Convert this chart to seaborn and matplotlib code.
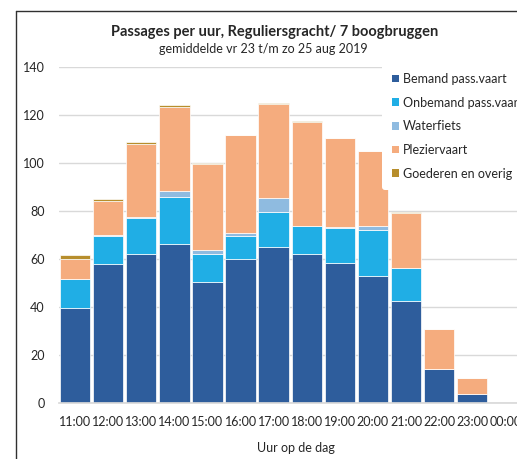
import matplotlib
matplotlib.use("Agg")
import matplotlib.pyplot as plt
from matplotlib.lines import Line2D
from matplotlib.patches import Patch
import numpy as np
import pandas as pd
import seaborn as sns

# Passages per hour, Reguliersgracht / 7 boogbruggen (average Fri 23 - Sun 25 Aug 2019)
hours = ["11:00", "12:00", "13:00", "14:00", "15:00", "16:00", "17:00",
         "18:00", "19:00", "20:00", "21:00", "22:00", "23:00", "00:00"]
bemand = [39.5, 58.0, 62.0, 66.4, 50.5, 60.0, 65.0, 62.0, 58.5, 53.0, 42.5, 14.0, 3.8, 0.0]
onbemand = [12.0, 11.5, 15.0, 19.6, 11.7, 9.4, 14.5, 11.7, 14.5, 19.0, 13.6, 0.0, 0.0, 0.0]
waterfiets = [0.0, 0.5, 0.5, 2.5, 1.4, 1.4, 6.0, 0.0, 0.4, 1.6, 0.0, 0.0, 0.0, 0.0]
plezier = [8.5, 14.0, 30.5, 34.8, 35.8, 40.7, 39.0, 43.3, 37.0, 31.4, 22.9, 16.8, 6.6, 0.0]
goederen = [1.5, 0.8, 0.7, 0.7, 0.5, 0.0, 0.5, 0.7, 0.0, 0.0, 0.4, 0.0, 0.0, 0.0]

series = ["Bemand pass.vaart", "Onbemand pass.vaart", "Waterfiets",
          "Pleziervaart", "Goederen en overig"]
values = [bemand, onbemand, waterfiets, plezier, goederen]
colors = ["#2E5D9C", "#20AEE5", "#8FBBE0", "#F5AC7E", "#B78E2C"]

sns.set_theme(style="white")
plt.rcParams["font.family"] = ["Lato", "DejaVu Sans"]
text_color = "#262626"

W, H = 517, 459
fig = plt.figure(figsize=(W / 100, H / 100), dpi=100)
cat_w = 33.1
ax = fig.add_axes([58.5 / W, (H - 403) / H, 14 * cat_w / W, 336 / H])

# stacked bars, one seaborn layer per series
bottom = np.zeros(len(hours))
for name, vals, col in zip(series, values, colors):
    df = pd.DataFrame({"hour": hours, "n": vals})
    sns.barplot(data=df, x="hour", y="n", order=hours, color=col,
                bottom=bottom.copy(), width=0.92, edgecolor="white",
                linewidth=0.5, saturation=1, errorbar=None, ax=ax)
    bottom += np.array(vals)

ax.set_xlim(-0.5, len(hours) - 0.5)
ax.set_ylim(0, 140)
ax.set_yticks(range(0, 141, 20))
ax.yaxis.grid(True, color="#D9D9D9", linewidth=1)
ax.set_axisbelow(True)
for s in ["top", "right", "left"]:
    ax.spines[s].set_visible(False)
ax.spines["bottom"].set_color("#D9D9D9")
ax.tick_params(axis="y", length=0, pad=10, labelsize=9, labelcolor=text_color)
ax.tick_params(axis="x", length=0, pad=9, labelsize=9, labelcolor=text_color)
ax.set_xlabel("")
ax.set_ylabel("")

fig.text(274.5 / W, 1 - 32 / H, "Passages per uur, Reguliersgracht/ 7 boogbruggen",
         ha="center", va="center", fontsize=10.5, fontweight="bold", color=text_color)
fig.text(263 / W, 1 - 49 / H, "gemiddelde vr 23 t/m zo 25 aug 2019",
         ha="center", va="center", fontsize=9, color=text_color)
fig.text(296 / W, 1 - 448 / H, "Uur op de dag",
         ha="center", va="center", fontsize=9, color=text_color)

handles = [Patch(facecolor=c, edgecolor="none") for c in colors]
leg = fig.legend(handles, series, loc="upper left",
                 bbox_to_anchor=(382 / W, 1 - 63 / H), borderaxespad=0,
                 frameon=True, facecolor="white", edgecolor="none", framealpha=1,
                 fontsize=9, handlelength=0.55, handleheight=0.55,
                 handletextpad=0.35, labelspacing=0.93, borderpad=0.8)
for t in leg.get_texts():
    t.set_color(text_color)

# chart frame
fig.add_artist(Line2D([15.5 / W, 15.5 / W], [0, 1 - 10.5 / H], color="#303030", lw=1))
fig.add_artist(Line2D([15.5 / W, 1], [1 - 10.5 / H, 1 - 10.5 / H], color="#303030", lw=1))

fig.savefig("out.png", dpi=100)
